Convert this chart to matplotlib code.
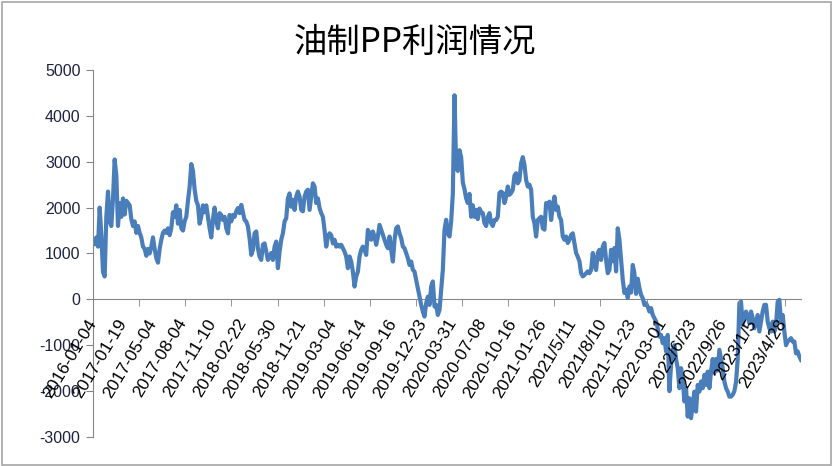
import numpy as np
import matplotlib.pyplot as plt
from matplotlib.patches import Rectangle

# category labels shown on the x axis (one every 18 samples)
date_labels = ['2016-01-04', '2017-01-19', '2017-05-04', '2017-08-04', '2017-11-10',
               '2018-02-22', '2018-05-30', '2018-11-21', '2019-03-04', '2019-06-14',
               '2019-09-16', '2019-12-23', '2020-03-31', '2020-07-08', '2020-10-16',
               '2021-01-26', '2021/5/11', '2021/8/10', '2021-11-23', '2022-03-01',
               '2022/6/23', '2022/9/26', '2023/1/5', '2023/4/28']

# profit series (yuan/ton)
profit = [
    1300, 1200, 1350, 1150, 2000, 1400, 600, 500, 1800, 2350,
    1700, 1600, 2200, 3050, 2700, 1600, 2100, 1800, 2200, 1850,
    2150, 2100, 2050, 1750, 1600, 1700, 1450, 1600, 1450, 1350,
    1150, 1100, 950, 1100, 1000, 1150, 1350, 1100, 900, 800,
    1100, 1300, 1450, 1500, 1450, 1550, 1400, 1550, 1900, 1800,
    2050, 1650, 1950, 1550, 1500, 1700, 1800, 2150, 2450, 2950,
    2800, 2400, 2150, 2050, 1650, 1800, 2050, 1900, 2050, 1800,
    1550, 1350, 1750, 2000, 1700, 1550,
    1880, 1840, 1730, 1800, 1550, 1440, 1840, 1700, 1840, 1800,
    1920, 1990, 1880, 2060, 1900, 1730, 1700, 1590, 1330, 970,
    1080, 1440, 1480, 1110, 930, 860, 1190, 1220, 1040, 860,
    930, 1010, 860, 1150, 1260, 680, 1040, 1300, 1440, 1700,
    1770, 2200, 2310, 2020, 2170, 1950, 2240, 2350, 2240, 1950,
    1920, 2240, 2350, 2390, 1950, 2240, 2530, 2460, 2100, 2200,
    1990, 1880, 1800, 1510, 1150, 1370, 1440, 1400, 1220, 1300,
    1150, 1190, 1150,
    1190, 1115, 1040, 935, 680, 935, 825, 605, 280, 500,
    605, 935, 1080, 1150, 1080, 970, 1515, 1440, 1300, 1480,
    1370, 1190, 1370, 1625, 1515, 1405, 1300, 1190, 1115, 1370,
    1080, 825, 1300, 1550, 1590, 1440, 1335, 1150, 1115, 1005,
    900, 750, 825, 645, 605, 425, 245, 60, -120, -265,
    -375, -85, 60, -120, 280, 390, -155, -120, -340, -230,
    210, 645, 1515, 1735, 1440, 1370,
    1700, 2300, 4450, 2900, 2800, 3250, 3100, 2550, 2400, 2200,
    2100, 2300, 1800, 2050, 1800, 1950, 1750, 1980, 1900, 1880,
    1660, 1600, 1800, 1880, 1660, 1600, 1730, 1730, 1800, 2320,
    2350, 2320, 2100, 2240, 2460, 2280, 2320, 2390, 2700, 2750,
    2530, 2600, 2970, 3100, 2930, 2600, 2460, 2500, 2390, 1800,
    1660, 1370, 1730, 1770, 1800, 1550, 1520, 2100, 2020, 2130,
    1730, 2020, 2240, 1950, 2020, 1800, 1730, 1370, 1300, 1370,
    1230, 1300, 1400, 1440, 1230, 1010, 930, 830, 570, 500,
    530, 570, 610, 570, 640, 1010, 790, 640, 1010, 1080,
    860, 1150, 1230, 860, 570, 640, 1080, 830, 1120, 610,
    1550, 1300, 860, 430, 140, 210, 30, 280,
    150, 750, 570, 120, 450, 250, 100, 25, -120, -85,
    -160, -265, -190, -340, -410, -480, -630, -810, -775, -955,
    -845, -1135, -775, -2000, -1430, -1100, -1000, -1300, -1500, -1935,
    -1500, -1720, -2225, -1935, -2555, -2155, -2590, -2300, -2010, -2445,
    -1865, -2010, -1790, -1935, -1645, -1865, -1575, -1935, -1575, -1300,
    -1600, -1300, -1550, -1100,
    -1300, -1500, -1790, -1935, -2010, -2120, -2120, -2080, -2000, -1800,
    -1300, -85, -50, -555, -410, -265, -375, -520, -265, -410,
    -630, -485, -340, -700, -485, -265, -120, -120, -485, -630,
    -700, -485, -700, -555, -50, -10, -485, -340, -700, -1000,
    -920, -885, -845, -920, -920, -1175, -1135, -1245, -1320,
]

label_step = 18          # samples between two date labels
tick_step = label_step * 100 / 65   # tick marks are spaced wider than labels

plt.rcParams['font.family'] = ['Liberation Sans', 'DejaVu Sans']
plt.rcParams['axes.unicode_minus'] = False

fig = plt.figure(figsize=(8.33, 4.66), dpi=100)
ax = fig.add_axes([93 / 833, 1 - 437 / 466, (801 - 93) / 833, (437 - 70) / 466])

x = np.arange(len(profit))
ax.plot(x, profit, color='#4A7EBB', lw=3.0, solid_joinstyle='round', zorder=2)

ax.set_xlim(0, len(profit) - 1)
ax.set_ylim(-3000, 5000)
ax.set_yticks(np.arange(-3000, 5001, 1000))

for side in ['top', 'right']:
    ax.spines[side].set_visible(False)
ax.spines['left'].set_color('#868686')
ax.spines['bottom'].set_color('#868686')
ax.spines['bottom'].set_position(('data', 0))
ax.spines['bottom'].set_zorder(1)

ax.set_xticks(np.arange(len(date_labels)) * label_step)
ax.set_xticklabels(date_labels, rotation=59, ha='right', va='center',
                   rotation_mode='anchor', fontsize=12.5)
ax.set_xticks(np.arange(0, len(profit), tick_step), minor=True)
ax.tick_params(axis='x', which='major', length=0, pad=15)
ax.tick_params(axis='x', which='minor', length=5, color='#868686')
ax.tick_params(axis='y', length=5, color='#868686', labelsize=11.5,
               labelcolor='#1C2340', pad=4)
ax.xaxis.set_zorder(3)

fig.text(415 / 833, 1 - 42 / 466, '油制PP利润情况', fontsize=24,
         family=['Noto Sans CJK SC', 'DejaVu Sans'], ha='center', va='center')

fig.patches.append(Rectangle((0.002, 0.003), 0.995, 0.993, transform=fig.transFigure,
                             fill=False, edgecolor='#A6A6A6', lw=1.2))

fig.savefig('out.png', dpi=100)
